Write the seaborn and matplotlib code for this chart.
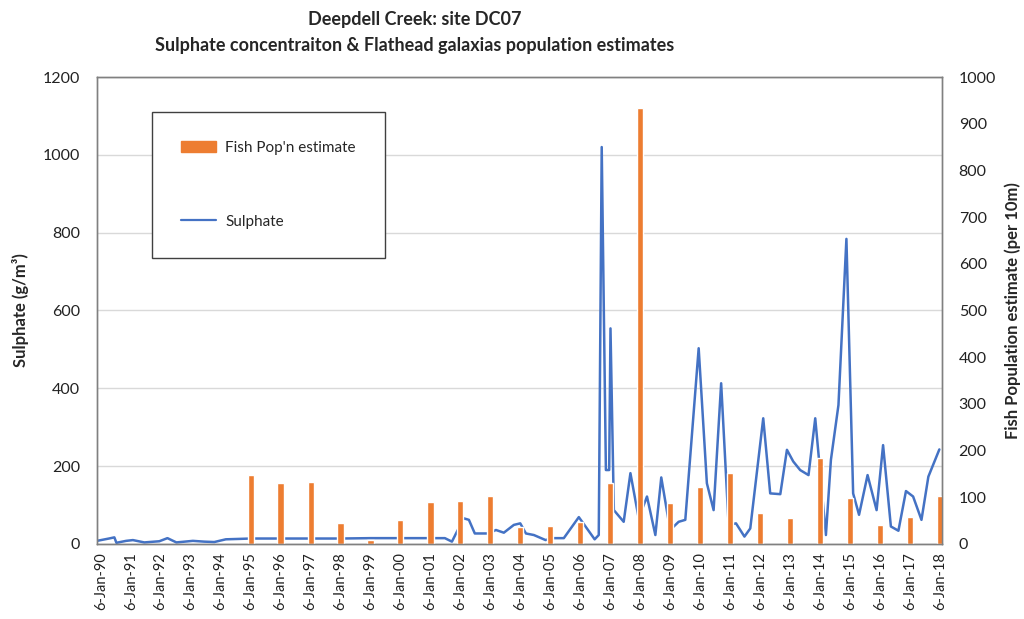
import pandas as pd
import matplotlib
matplotlib.use("Agg")
import matplotlib.pyplot as plt
from matplotlib.patches import Patch
from matplotlib.lines import Line2D
import seaborn as sns

# Sulphate samples (g/m3)
sulphate_dates = [
    "1989-11-20", "1990-04-15", "1990-06-20", "1990-07-15", "1990-11-10",
    "1991-02-01", "1991-06-20", "1991-12-20", "1992-03-28", "1992-07-15",
    "1993-02-01", "1993-06-20", "1993-10-20", "1994-03-10", "1994-08-15",
    "1995-01-06", "1996-01-06", "1997-01-06", "1998-01-06", "1999-01-06",
    "2000-01-06", "2001-01-06", "2001-07-01", "2001-09-25", "2002-02-15",
    "2002-04-20", "2002-07-01", "2002-12-20", "2003-03-15", "2003-06-20",
    "2003-10-20", "2004-01-06", "2004-03-15", "2004-06-20", "2004-11-10",
    "2005-01-25", "2005-06-20", "2005-12-20", "2006-07-01", "2006-08-20",
    "2006-09-25", "2006-11-15", "2006-12-25", "2007-01-10", "2007-02-20",
    "2007-06-20", "2007-09-10", "2007-12-20", "2008-03-30", "2008-07-10",
    "2008-09-20", "2009-01-06", "2009-04-20", "2009-07-10", "2009-12-20",
    "2010-03-30", "2010-06-20", "2010-09-20", "2010-12-20", "2011-03-20",
    "2011-07-01", "2011-09-10", "2012-02-15", "2012-05-10", "2012-09-10",
    "2012-11-30", "2013-02-15", "2013-05-10", "2013-08-20", "2013-11-10",
    "2014-03-20", "2014-05-20", "2014-08-20", "2014-11-25", "2015-02-15",
    "2015-04-28", "2015-08-10", "2015-11-28", "2016-02-15", "2016-05-20",
    "2016-08-20", "2016-11-20", "2017-02-15", "2017-05-28", "2017-08-20",
    "2018-01-01",
]
sulphate_values = [
    8, 14, 17, 3, 8,
    10, 4, 7, 15, 4,
    8, 6, 5, 12, 13,
    14, 14, 14, 14, 15,
    15, 15, 15, 6, 66,
    62, 27, 27, 36, 29,
    49, 53, 27, 23, 10,
    15, 15, 69, 12, 23,
    1020, 190, 190, 554, 87,
    57, 182, 66, 122, 23,
    171, 36, 57, 62, 503,
    156, 87, 413, 49, 53,
    19, 40, 323, 130, 128,
    242, 212, 190, 177, 323,
    23, 216, 357, 784, 130,
    75, 177, 87, 254, 45,
    34, 136, 122, 62, 173,
    243,
]

# Fish population estimates (per 10m), sampled each January
fish_years = list(range(1995, 2019))
fish_values = [148, 131, 133, 45, 9, 51, 90, 93, 103, 37, 38, 48,
               131, 933, 87, 121, 153, 67, 56, 184, 98, 41, 58, 103]

tick_years = list(range(1990, 2019))

sul = pd.DataFrame({"date": pd.to_datetime(sulphate_dates), "Sulphate": sulphate_values})
fish = pd.DataFrame({"date": pd.to_datetime([f"{y}-01-06" for y in fish_years]),
                     "Fish": fish_values})

sns.set_theme(style="white")
plt.rcParams['font.family'] = ['Lato', 'DejaVu Sans']

orange = "#ED7D31"
blue = "#4472C4"

fig = plt.figure(figsize=(10.24, 6.19), dpi=100)
ax = fig.add_axes([0.0947, 0.1212, 0.8252, 0.7544])
ax2 = ax.twinx()

# line on primary axis, bars on secondary
sns.lineplot(data=sul, x="date", y="Sulphate", ax=ax, color=blue, linewidth=1.8)
ax2.bar(fish["date"], fish["Fish"], width=75, color=orange)

ax.set_ylim(0, 1200)
ax.set_yticks(range(0, 1201, 200))
ax2.set_ylim(0, 1000)
ax2.set_yticks(range(0, 1001, 100))
ax.set_xlim(pd.Timestamp("1989-11-20"), pd.Timestamp("2018-02-02"))

ticks = pd.to_datetime([f"{y}-01-06" for y in tick_years])
ax.set_xticks(ticks)
ax.set_xticklabels([f"6-Jan-{y % 100:02d}" for y in tick_years], rotation=90, fontsize=10)

ax.grid(axis="y", color="#d9d9d9", linewidth=1)
ax.grid(axis="x", visible=False)
ax2.grid(False)
for a in (ax, ax2):
    for s in a.spines.values():
        s.set_color("#808080")
        s.set_linewidth(1)
    a.tick_params(length=0, labelsize=11.5, colors="#222222")
ax.tick_params(axis="x", labelsize=10.5, pad=6)
ax.tick_params(axis="y", pad=12)
ax2.tick_params(axis="y", pad=12)

ax.set_xlabel("")
ax.set_ylabel("Sulphate (g/m³)", fontsize=12, fontweight="bold", labelpad=10)
ax2.set_ylabel("Fish Population estimate (per 10m)", fontsize=12, fontweight="bold", labelpad=6)

handles = [Patch(facecolor=orange, edgecolor=orange),
           Line2D([0], [0], color=blue, linewidth=1.6)]
leg = ax2.legend(handles, ["Fish Pop'n estimate", "Sulphate"],
                 loc="upper left", bbox_to_anchor=(0.065, 0.925),
                 frameon=True, fancybox=False, framealpha=1, edgecolor="#404040",
                 fontsize=11, labelspacing=3.9, borderpad=1.9,
                 handlelength=2.3, handletextpad=0.6, borderaxespad=0)
leg.get_frame().set_linewidth(1)

fig.text(0.405, 1 - 20 / 619, "Deepdell Creek: site DC07", ha="center", va="center",
         fontsize=13, fontweight="bold")
fig.text(0.405, 1 - 45 / 619, "Sulphate concentraiton & Flathead galaxias population estimates",
         ha="center", va="center", fontsize=13, fontweight="bold")

fig.savefig("out.png", dpi=100)
